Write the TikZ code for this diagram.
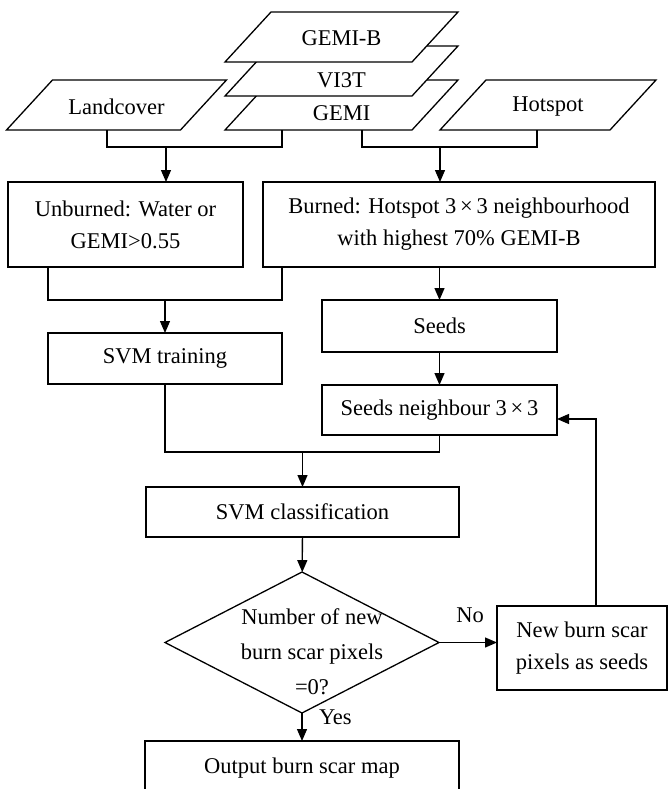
\documentclass[tikz,border=0pt]{standalone}
\usepackage{fontspec}
\setmainfont{Liberation Serif}
\usetikzlibrary{shapes.geometric,arrows.meta}
\begin{document}
\begin{tikzpicture}[x=1pt,y=-1pt,line width=1.3pt,
 every node/.style={font=\fontsize{22.5}{32}\selectfont,inner sep=0,outer sep=0},
 proc/.style={rectangle,draw,align=center},
 test/.style={diamond,draw,minimum width=274,minimum height=141},
 arr/.style={-{Triangle[length=12pt,width=10pt]}}]
 \useasboundingbox (0,0) rectangle (669,789);
 % inputs (parallelograms), the three layers drawn back to front
 \foreach \n/\x/\y/\b/\d/\t in {lc/116.5/105/174/2/Landcover,gemi/341.5/105/187/8/GEMI,vi/341.5/71/187/9/VI3T,gemib/341.5/37/187/1/GEMI-B,hot/548/105/170/2/Hotspot}{
  \draw[fill=white] ({\x-(\b+46)/2},{\y+25}) -- ++(\b,0) -- ({\x+(\b+46)/2},{\y-25}) -- ++(-\b,0) -- cycle;
  \node (\n) at (\x,{\y+\d}) {\t};
  \coordinate (\n-s) at (\x,{\y+25});
 }
 % samples
 \node[proc,minimum width=235,minimum height=85] (unb) at (125.5,224.5) {Unburned: Water or\\GEMI>0.55};
 \node[proc,minimum width=392,minimum height=85] (brn) at (459,224.5) {Burned: Hotspot 3{\,}×{\,}3 neighbourhood\\with highest 70\% GEMI-B};
 \node[proc,minimum width=234,minimum height=51] (svmt) at (165,358.5) {SVM training};
 \node[proc,minimum width=235,minimum height=52] (seeds) at (439.5,326) {Seeds};
 \node[proc,minimum width=235,minimum height=50] (nbr) at (439.5,410) {Seeds neighbour 3{\,}×{\,}3};
 \node[proc,minimum width=313,minimum height=50] (svmc) at (302.5,512) {SVM classification};
 \node[test] (dia) at (302,642.5) {};
 \node[align=center,font=\fontsize{22.5}{35}\selectfont] (diatxt) at (312,652) {Number of new\\burn scar pixels\\=0?};
 \node[proc,minimum width=170,minimum height=84] (newb) at (582,648) {New burn scar\\pixels as seeds};
 \node[proc,minimum width=314,minimum height=54] (out) at (302,768) {Output burn scar map};
 % joints
 \coordinate (jl) at (166,147);
 \coordinate (jr) at (440,147);
 \coordinate (jm) at (165,300);
 \coordinate (jc) at (302.5,452);
 % connectors
 \draw ([xshift=-9.5]lc-s) -- ++(0,17) -| ([xshift=-59.5]gemi-s);
 \draw ([xshift=20.5]gemi-s) -- ++(0,17) -| ([xshift=-11]hot-s);
 \draw[arr] (jl) -- (jl |- unb.north);
 \draw[arr] (jr) -- (jr |- brn.north);
 \draw ([xshift=-77.5]unb.south) -- ++(0,33) -| ([xshift=-177]brn.south);
 \draw[arr] (jm) -- (svmt);
 \draw[arr] (seeds.north |- brn.south) -- (seeds);
 \draw[arr] (seeds) -- (nbr);
 \draw (svmt.south) -- ++(0,68) -| (nbr.south);
 \draw[arr] (jc) -- (svmc);
 \draw[arr] (svmc) -- (dia);
 \draw[arr] (dia.east) -- (dia.east -| newb.west);
 \draw[arr] ([xshift=14]newb.north) |- ([yshift=-9]nbr.east);
 \draw[arr] (dia.south) -- (out.north);
 \node (no) at (470,615) {No};
 \node[anchor=west] (yes) at (319,717) {Yes};
\end{tikzpicture}
\end{document}
